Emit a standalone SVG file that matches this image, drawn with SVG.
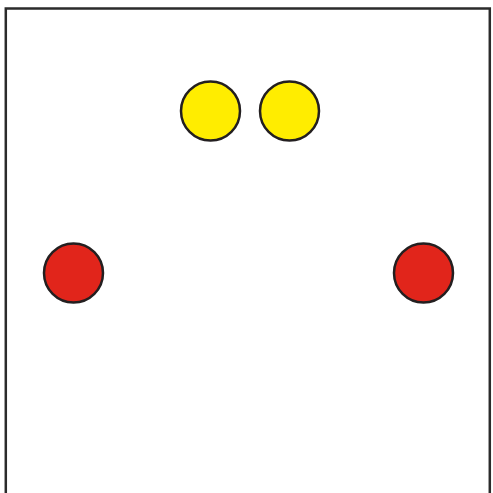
<svg xmlns="http://www.w3.org/2000/svg" width="493" height="493" viewBox="0 0 493 493">
<style>
.frame{fill:none;stroke:#2b2b2b;stroke-width:2.5}
.node{stroke:#231f20;stroke-width:2.5}
.yellow{fill:#ffed00}
.red{fill:#e1251b}
</style>
<rect width="493" height="493" fill="#ffffff"/>
<path class="frame" d="M5.8,493 V8.5 H489.8 V493"/>
<g id="yellow-left"><circle class="node yellow" cx="210.5" cy="111" r="29.5"/></g>
<g id="yellow-right"><circle class="node yellow" cx="289.5" cy="111" r="29.5"/></g>
<g id="red-left"><circle class="node red" cx="73.5" cy="273" r="29.5"/></g>
<g id="red-right"><circle class="node red" cx="423.5" cy="273" r="29.5"/></g>
<g id="connectors"></g>
</svg>
